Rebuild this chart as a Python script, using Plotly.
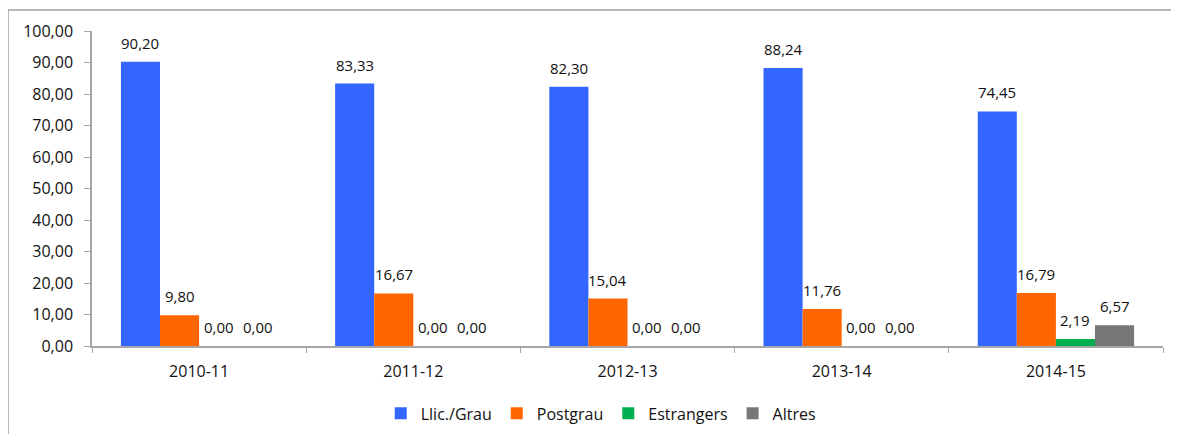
import plotly.graph_objects as go

categories = ["2010-11", "2011-12", "2012-13", "2013-14", "2014-15"]
llic_grau = [90.20, 83.33, 82.30, 88.24, 74.45]
postgrau = [9.80, 16.67, 15.04, 11.76, 16.79]
estrangers = [0.00, 0.00, 0.00, 0.00, 2.19]
altres = [0.00, 0.00, 0.00, 0.00, 6.57]

series = [
    ("Llic./Grau", llic_grau, "#3366FF"),
    ("Postgrau", postgrau, "#FF6600"),
    ("Estrangers", estrangers, "#00B050"),
    ("Altres", altres, "#777777"),
]

FONT = "Open Sans"
W, H = 1171, 426
ML, MR, MT, MB = 84, 16, 23, 88
BARGAP = 0.27
plot_w = W - ML - MR
plot_h = H - MT - MB
bar_w = plot_w / len(categories) * (1 - BARGAP) / len(series)

fig = go.Figure()
annotations = []
for i, (name, vals, color) in enumerate(series):
    fig.add_trace(go.Bar(
        x=categories, y=vals, name=name,
        marker=dict(color=color, line=dict(width=0)),
        cliponaxis=False,
    ))
    for c, v in zip(categories, vals):
        annotations.append(dict(
            x=c, y=v, xref="x", yref="y", text=f"{v:.2f}".replace(".", ","),
            showarrow=False, yanchor="bottom", xanchor="center",
            xshift=(i - (len(series) - 1) / 2) * bar_w, yshift=7,
            font=dict(family=FONT, size=15, color="#111111"),
        ))

bx0 = (0 - ML) / plot_w
bx1 = (W + 20 - ML) / plot_w
by0 = -0.4
by1 = 1 + (MT - 2) / plot_h
border = dict(color="#a0a0a0", width=1.5)

fig.update_layout(
    width=W, height=H,
    margin=dict(l=ML, r=MR, t=MT, b=MB, autoexpand=False),
    separators=",.",
    barmode="group", bargap=BARGAP, bargroupgap=0,
    plot_bgcolor="white", paper_bgcolor="white",
    font=dict(family=FONT, size=16, color="#111111"),
    showlegend=True,
    legend=dict(orientation="h", x=0.475, xanchor="center", y=-0.16, yanchor="top",
                font=dict(family=FONT, size=16, color="#111111"),
                traceorder="normal"),
    xaxis=dict(type="category", automargin=False, showline=True, linecolor="#a6a6a6", linewidth=1.5,
               ticks="outside", tickson="boundaries", ticklen=5, tickcolor="#a6a6a6",
               ticklabelstandoff=10,
               tickfont=dict(family=FONT, size=16)),
    yaxis=dict(range=[0, 100], dtick=10, tickformat=".2f", automargin=False,
               showline=True, linecolor="#a6a6a6", linewidth=1.5,
               ticks="outside", ticklen=6, tickcolor="#a6a6a6",
               ticklabelstandoff=8,
               showgrid=False, zeroline=False,
               tickfont=dict(family=FONT, size=16)),
    annotations=annotations,
    shapes=[
        dict(type="line", xref="paper", yref="paper", x0=bx0, x1=bx1, y0=by1, y1=by1,
             line=border, layer="below"),
        dict(type="line", xref="paper", yref="paper", x0=bx0, x1=bx0, y0=by0, y1=by1,
             line=border, layer="below"),
    ],
)

fig.write_html("out.html")
